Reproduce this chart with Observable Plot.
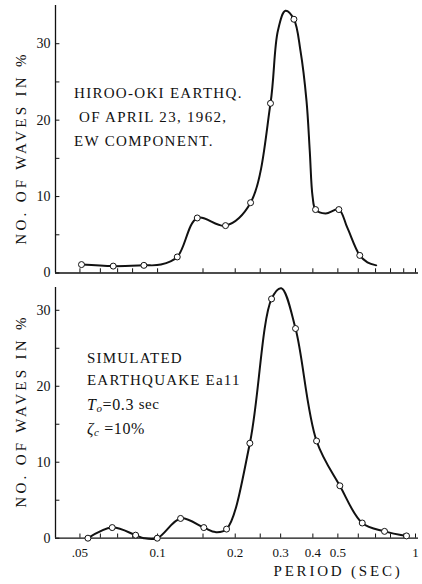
<!DOCTYPE html>
<html><head><meta charset="utf-8">
<script src="https://cdn.jsdelivr.net/npm/d3@7"></script>
<script src="https://cdn.jsdelivr.net/npm/@observablehq/plot@0.6"></script>
<style>
body{margin:0;background:#fff;}
#wrap{position:relative;width:422px;height:584px;overflow:hidden;}
#top,#bot{position:absolute;left:0;}
#top{top:0}
#bot{top:282px}
</style></head><body><div id="wrap"><div id="top"></div><div id="bot"></div></div>
<script>
// ---------- data ----------
// Top panel: Hiroo-oki earthquake, EW component — plotted circles
const topPeriods = [0.0507, 0.0673, 0.0885, 0.1192, 0.1425, 0.1834, 0.2294, 0.274, 0.3377, 0.4097, 0.5044, 0.608];
const topPct     = [1.1,    0.9,    1.0,    2.1,    7.2,    6.2,    9.2,    22.2,  33.2,   8.3,    8.3,    2.3];
// Top panel: hand-drawn smooth curve traced through the picture
const topCurvePeriods = [0.0507, 0.0673, 0.0885, 0.103, 0.1192, 0.1425, 0.1834, 0.2294, 0.274, 0.2927, 0.313, 0.3377, 0.358, 0.378, 0.389, 0.399, 0.4097, 0.448, 0.5044, 0.543, 0.608, 0.651, 0.704];
const topCurvePct     = [1.1,    0.9,    1.0,    1.1,   2.1,    7.2,    6.2,    9.2,    22.2,  31.7,   34.3,  33.2,   29.1,  22.5,  16.0,  10.0,  8.3,    7.8,   8.3,    6.0,   2.3,   1.4,   1.0];

// Bottom panel: simulated earthquake Ea11 — plotted circles
const botPeriods = [0.0537, 0.0667, 0.0822, 0.0997, 0.1228, 0.1511, 0.1851, 0.2279, 0.2766, 0.3426, 0.4134, 0.5089, 0.6215, 0.7583, 0.9228];
const botPct     = [0.0,    1.4,    0.4,    0.0,    2.6,    1.4,    1.2,    12.5,   31.5,   27.6,   12.8,   6.9,    2.0,    0.9,    0.3];
// Bottom panel: traced smooth curve
const botCurvePeriods = [0.0537, 0.0667, 0.0822, 0.0885, 0.0997, 0.1228, 0.1511, 0.1678, 0.1851, 0.2279, 0.2766, 0.3017, 0.3426, 0.4134, 0.5089, 0.6215, 0.7583, 0.9228];
const botCurvePct     = [0.0,    1.4,    0.4,    0.0,    0.0,    2.6,    1.4,    0.8,    1.2,    12.5,   31.5,   32.9,   27.6,   12.8,   6.9,    2.0,    0.9,    0.3];

// Axes
const xTickMarks = [0.05, 0.06, 0.07, 0.08, 0.1, 0.15, 0.2, 0.25, 0.3, 0.4, 0.5, 0.6, 0.7, 0.8, 0.9, 1];
const xLabelVals = [0.05, 0.07, 0.1, 0.2, 0.3, 0.4, 0.5, 0.7, 1];
const xLabelText = [".05", ".07", "0.1", "0.2", "0.3", "0.4", "0.5", ".7", "1"];
const yTickMarks = [0, 5, 10, 15, 20, 25, 30];
const yLabelVals = [0, 10, 20, 30];
const xDomain = [0.0402, 1.027];

const FONT = "'Liberation Serif','DejaVu Serif',serif";
const xLbl = new Map(xLabelVals.map((v, i) => [v, xLabelText[i]]));

function panel({height, marginBottom, yMax, cP, cV, mP, mV, showX}) {
  const curve = cP.map((p, i) => ({p, v: cV[i]}));
  const pts = mP.map((p, i) => ({p, v: mV[i]}));
  return Plot.plot({
    width: 422, height,
    marginLeft: 55, marginRight: 4, marginTop: 5, marginBottom,
    style: {fontFamily: FONT, fontSize: "14px", color: "#111", background: "#fff"},
    x: {type: "log", domain: xDomain, ...(showX
      ? {ticks: xLabelVals, tickFormat: d => xLbl.get(d), tickSize: 0, tickPadding: 10, label: null}
      : {axis: null})},
    y: {domain: [0, yMax], ticks: yLabelVals, tickSize: 0, tickPadding: 5, label: null},
    marks: [
      Plot.ruleY([0], {stroke: "#111", strokeWidth: 1.3}),
      Plot.ruleX([xDomain[0]], {stroke: "#111", strokeWidth: 1.3}),
      Plot.ruleX(xTickMarks, {x: d => d, y1: 0, y2: 0.55, stroke: "#111", strokeWidth: 1}),
      Plot.ruleY(yTickMarks, {y: d => d, x1: xDomain[0], x2: xDomain[0] * 1.04, stroke: "#111", strokeWidth: 1}),
      Plot.line(curve, {x: "p", y: "v", curve: "catmull-rom", stroke: "#111", strokeWidth: 2}),
      Plot.dot(pts, {x: "p", y: "v", r: 3, fill: "#fff", stroke: "#111", strokeWidth: 1})
    ]
  });
}

const topSvg = panel({height: 282, marginBottom: 9.5, yMax: 35, cP: topCurvePeriods, cV: topCurvePct, mP: topPeriods, mV: topPct, showX: false});
const botSvg = panel({height: 302, marginBottom: 46.3, yMax: 33, cP: botCurvePeriods, cV: botCurvePct, mP: botPeriods, mV: botPct, showX: true});
document.getElementById("top").appendChild(topSvg);
document.getElementById("bot").appendChild(botSvg);
// slightly smaller x tick labels, as in the reference
d3.select(botSvg).selectAll('[aria-label="x-axis tick label"] text, [aria-label="x-axis tick label"]').attr("font-size", 13);

function addText(svg, x, y, opts = {}) {
  return d3.select(svg).append("text")
    .attr("x", x).attr("y", y)
    .attr("text-anchor", opts.anchor || "start")
    .attr("dominant-baseline", "central")
    .attr("font-family", FONT)
    .attr("font-size", opts.size || 15)
    .attr("letter-spacing", opts.ls || "0px")
    .attr("fill", "#111");
}

function ylabel(svg, cy) {
  addText(svg, 0, 0, {anchor: "middle", ls: "3.3px"})
    .attr("transform", `translate(21,${cy}) rotate(-90)`)
    .text("NO. OF WAVES IN %");
}
ylabel(topSvg, 148);
ylabel(botSvg, 129);

// x-axis title
addText(botSvg, 338, 289, {anchor: "middle", ls: "2.8px"}).text("PERIOD (SEC)");

// top annotation
const topLines = ["HIROO-OKI EARTHQ.", "OF APRIL 23, 1962,", "EW COMPONENT."];
const topX = [74, 79, 74];
topLines.forEach((t, i) => addText(topSvg, topX[i], 93 + i * 24, {ls: "1.3px"}).text(t));

// bottom annotation
["SIMULATED", "EARTHQUAKE Ea11"].forEach((t, i) => addText(botSvg, 87, 76 + i * 22, {ls: "1.2px"}).text(t));
const t1 = addText(botSvg, 87, 122, {size: 16, ls: "0.6px"});
t1.append("tspan").attr("font-style", "italic").text("T");
t1.append("tspan").attr("font-style", "italic").attr("font-size", 11).attr("dy", 4).text("o");
t1.append("tspan").attr("dy", -4).text("=0.3 ");
t1.append("tspan").attr("font-size", 15).text("sec");
const t2 = addText(botSvg, 87, 146, {size: 16, ls: "0.6px"});
t2.append("tspan").attr("font-style", "italic").text("ζ");
t2.append("tspan").attr("font-style", "italic").attr("font-size", 11).attr("dy", 4).text("c");
t2.append("tspan").attr("dy", -4).text(" =10%");
</script>
</body></html>
